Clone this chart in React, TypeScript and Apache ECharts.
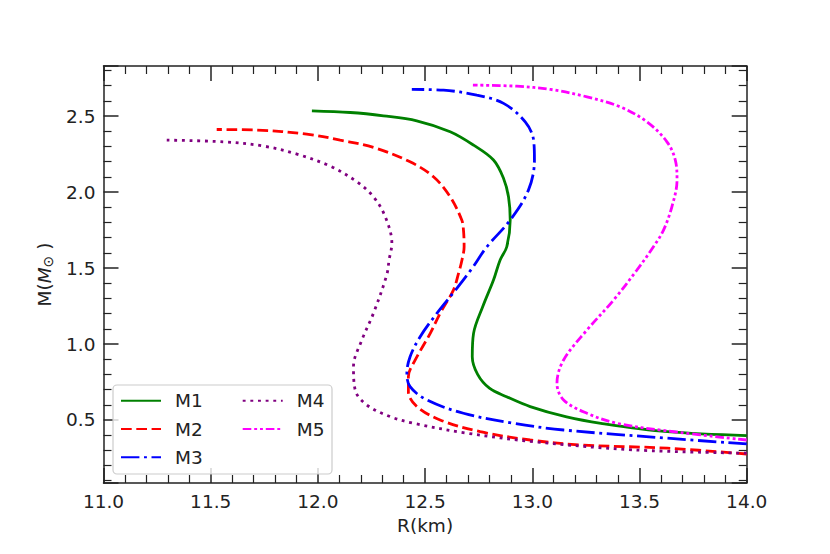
import React, { useEffect, useRef } from "react";
import * as echarts from "echarts";

// Mass-radius curves: [R (km), M (M_sun)]
const seriesNames = ["M1", "M2", "M3", "M4", "M5"];

const m1: [number, number][] = [
  [14.0, 0.397], [13.63, 0.423], [13.32, 0.478], [13.16, 0.52], [12.99, 0.588],
  [12.88, 0.653], [12.8, 0.709], [12.745, 0.8], [12.72, 0.916], [12.726, 1.07],
  [12.77, 1.25], [12.819, 1.421], [12.85, 1.553], [12.881, 1.64], [12.897, 1.816],
  [12.889, 1.969], [12.866, 2.09], [12.819, 2.211], [12.726, 2.309], [12.617, 2.397],
  [12.461, 2.469], [12.306, 2.502], [12.151, 2.524], [11.972, 2.535],
];

const m2: [number, number][] = [
  [14.0, 0.276], [13.63, 0.314], [13.22, 0.336], [12.99, 0.368], [12.757, 0.423],
  [12.57, 0.5], [12.462, 0.588], [12.422, 0.686], [12.422, 0.785], [12.454, 0.895],
  [12.524, 1.07], [12.57, 1.202], [12.632, 1.355], [12.656, 1.465], [12.672, 1.553],
  [12.682, 1.64], [12.679, 1.75], [12.671, 1.816], [12.617, 1.969], [12.539, 2.101],
  [12.43, 2.199], [12.259, 2.294], [12.104, 2.342], [11.948, 2.382], [11.715, 2.408],
  [11.528, 2.412],
];

const m3: [number, number][] = [
  [14.0, 0.342], [13.63, 0.38], [13.146, 0.434], [12.912, 0.478], [12.679, 0.544],
  [12.508, 0.632], [12.43, 0.719], [12.415, 0.807], [12.43, 0.916], [12.477, 1.048],
  [12.555, 1.202], [12.648, 1.366], [12.72, 1.5], [12.788, 1.64], [12.897, 1.816],
  [12.982, 2.013], [13.01, 2.211], [13.006, 2.342], [12.967, 2.462], [12.866, 2.584],
  [12.741, 2.638], [12.586, 2.671], [12.438, 2.676],
];

const m4: [number, number][] = [
  [14.0, 0.281], [13.472, 0.303], [13.006, 0.357], [12.695, 0.413], [12.446, 0.478],
  [12.337, 0.522], [12.228, 0.599], [12.174, 0.697], [12.166, 0.851], [12.205, 1.026],
  [12.259, 1.202], [12.321, 1.454], [12.332, 1.553], [12.345, 1.663], [12.314, 1.838],
  [12.259, 1.969], [12.182, 2.068], [12.057, 2.171], [11.902, 2.25], [11.746, 2.303],
  [11.559, 2.331], [11.295, 2.342],
];

const m5: [number, number][] = [
  [14.0, 0.368], [13.628, 0.428], [13.395, 0.478], [13.255, 0.544], [13.146, 0.632],
  [13.115, 0.741], [13.146, 0.895], [13.255, 1.092], [13.379, 1.289], [13.488, 1.487],
  [13.565, 1.64], [13.612, 1.75], [13.651, 1.903], [13.675, 2.079], [13.667, 2.211],
  [13.628, 2.331], [13.535, 2.462], [13.41, 2.561], [13.255, 2.627], [13.084, 2.676],
  [12.928, 2.697], [12.723, 2.704],
];

const seriesData = [m1, m2, m3, m4, m5];
const seriesColors = ["#008000", "#ff0000", "#0000ff", "#800080", "#ff00ff"];
const seriesDash: any[] = [
  "solid",
  [10.7, 4.6],
  [18.4, 4.6, 2.9, 4.6],
  [2.9, 4.75],
  [8.6, 2.9, 2.9, 2.9, 2.9, 2.9],
];

const xMin = 11.0;
const xMax = 14.0;
const xStep = 0.5;
const yMin = 0.085;
const yMax = 2.83;

const FONT = "DejaVu Sans";
const INK = "#222222";

export default function App() {
  const ref = useRef<HTMLDivElement>(null);

  useEffect(() => {
    if (!ref.current) return;
    const chart = echarts.init(ref.current, null, { renderer: "svg", width: 830, height: 554 });

    const axisLine = { show: true, onZero: false, lineStyle: { color: INK, width: 1.5 } };
    const majorTick = { show: true, inside: true, length: 15, lineStyle: { color: INK, width: 1.5 } };
    const minorTick = { show: true, splitNumber: 5, length: 8, lineStyle: { color: INK, width: 1.2 } };
    const labelStyle = { fontFamily: FONT, fontSize: 18.5, color: INK };

    const legendCommon = {
      orient: "vertical",
      top: 390.7,
      padding: 0,
      itemWidth: 40,
      itemHeight: 20,
      itemGap: 8.3,
      itemStyle: { opacity: 0 },
      textStyle: { ...labelStyle, lineHeight: 20, padding: [0, 0, 0, 9] },
      selectedMode: false,
    };

    const option: any = {
      animation: false,
      backgroundColor: "#ffffff",
      grid: { left: 103.5, right: 83.3, top: 66, bottom: 71, containLabel: false },
      xAxis: [
        {
          type: "value",
          position: "bottom",
          min: xMin,
          max: xMax,
          interval: xStep,
          axisLine,
          axisTick: majorTick,
          minorTick,
          splitLine: { show: false },
          axisLabel: { ...labelStyle, margin: 9, formatter: (v: number) => v.toFixed(1) },
          name: "R(km)",
          nameLocation: "middle",
          nameGap: 32,
          nameTextStyle: { ...labelStyle },
        },
        {
          type: "value",
          position: "top",
          min: xMin,
          max: xMax,
          interval: xStep,
          axisLine,
          axisTick: majorTick,
          minorTick,
          splitLine: { show: false },
          axisLabel: { show: false },
        },
      ],
      yAxis: [
        {
          type: "value",
          position: "left",
          min: yMin,
          max: yMax,
          splitNumber: 5,
          axisLine,
          axisTick: majorTick,
          minorTick,
          splitLine: { show: false },
          axisLabel: {
            ...labelStyle,
            margin: 8,
            showMinLabel: false,
            showMaxLabel: false,
            formatter: (v: number) => v.toFixed(1),
          },
          name: "{a|M(}{b|M}{c|⊙}{a|)}",
          nameLocation: "middle",
          nameRotate: 90,
          nameGap: 46,
          nameTextStyle: {
            ...labelStyle,
            rich: {
              a: { fontFamily: FONT, fontSize: 18.5, color: INK, lineHeight: 22 },
              b: { fontFamily: FONT, fontSize: 18.5, color: INK, fontStyle: "italic", lineHeight: 22 },
              c: {
                fontFamily: FONT,
                fontSize: 14,
                color: INK,
                verticalAlign: "bottom",
                lineHeight: 12,
                padding: [0, 6, 0, 0],
              },
            },
          },
        },
        {
          type: "value",
          position: "right",
          min: yMin,
          max: yMax,
          splitNumber: 5,
          axisLine,
          axisTick: majorTick,
          minorTick,
          splitLine: { show: false },
          axisLabel: { show: false },
        },
      ],
      legend: [
        { ...legendCommon, data: seriesNames.slice(0, 3), left: 120 },
        { ...legendCommon, data: seriesNames.slice(3), left: 241.7 },
      ],
      graphic: [
        {
          type: "rect",
          z: 3,
          shape: { x: 113, y: 385, width: 219, height: 89, r: 4 },
          style: { fill: "rgba(255,255,255,0.8)", stroke: "#cccccc", lineWidth: 1.2 },
        },
      ],
      series: seriesNames.map((name, i) => ({
        name,
        type: "line",
        xAxisIndex: 0,
        yAxisIndex: 0,
        data: seriesData[i],
        symbol: "none",
        showSymbol: false,
        smooth: 0.35,
        clip: true,
        lineStyle: { color: seriesColors[i], width: 2.8, type: seriesDash[i], cap: "butt" },
        itemStyle: { color: seriesColors[i] },
        emphasis: { disabled: true },
      })),
    };

    chart.setOption(option);
    return () => chart.dispose();
  }, []);

  return (
    <div
      ref={ref}
      style={{ position: "fixed", left: 0, top: 0, width: 830, height: 554, background: "#ffffff" }}
    />
  );
}
